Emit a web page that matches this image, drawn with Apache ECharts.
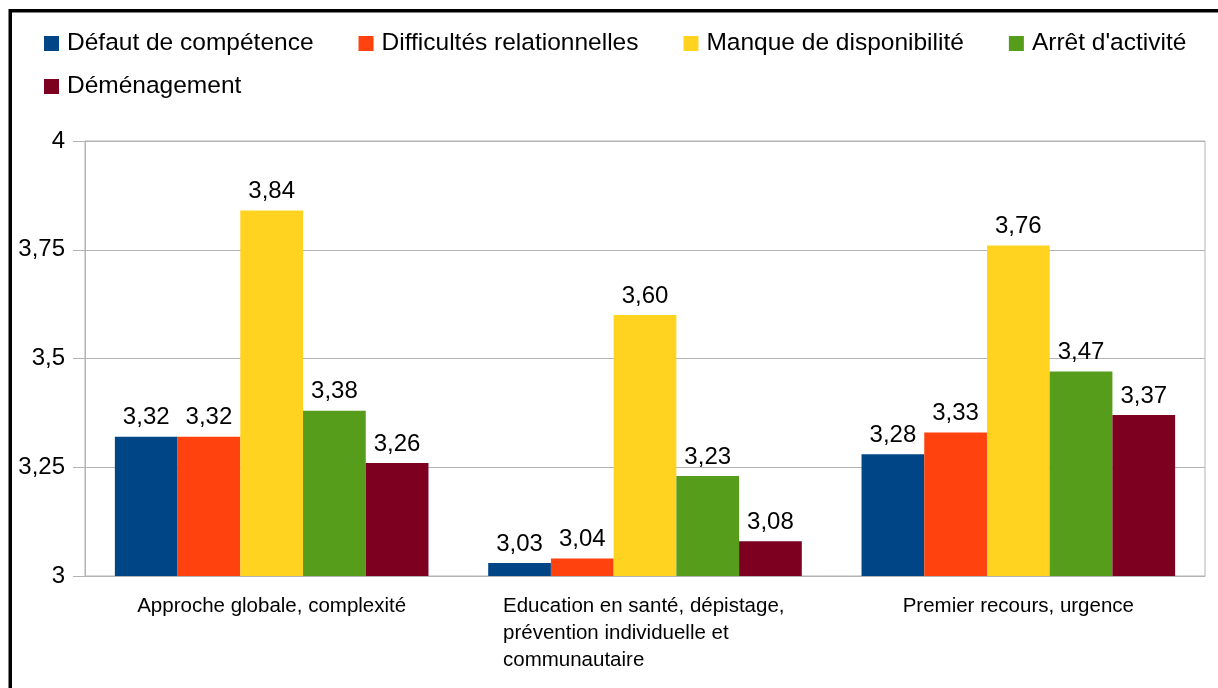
<!DOCTYPE html>
<html>
<head>
<meta charset="utf-8">
<script src="https://cdn.jsdelivr.net/npm/echarts@6/dist/echarts.min.js"></script>
<style>
  html, body { margin: 0; padding: 0; background: #fff; }
  #chart { width: 1218px; height: 688px; }
</style>
</head>
<body>
<div id="chart"></div>
<script>
  var categories = [
    'Approche globale, complexité',
    'Education en santé, dépistage,\nprévention individuelle et\ncommunautaire',
    'Premier recours, urgence'
  ];
  var seriesNames = ['Défaut de compétence', 'Difficultés relationnelles', 'Manque de disponibilité', "Arrêt d'activité", 'Déménagement'];
  var defautCompetence = [3.32, 3.03, 3.28];
  var difficultesRelationnelles = [3.32, 3.04, 3.33];
  var manqueDisponibilite = [3.84, 3.60, 3.76];
  var arretActivite = [3.38, 3.23, 3.47];
  var demenagement = [3.26, 3.08, 3.37];
  var colors = ['#004586', '#ff420e', '#ffd320', '#579d1c', '#7e0021'];

  var font = 'Liberation Sans, Arial, sans-serif';
  var values = [defautCompetence, difficultesRelationnelles, manqueDisponibilite, arretActivite, demenagement];

  var chart = echarts.init(document.getElementById('chart'));

  var series = seriesNames.map(function (name, i) {
    return {
      name: name,
      type: 'bar',
      barGap: 0,
      barCategoryGap: '16%',
      itemStyle: { color: colors[i] },
      label: {
        show: true,
        position: 'top',
        distance: 7,
        color: '#000',
        fontFamily: font,
        fontSize: 24,
        formatter: function (p) { return p.value.toFixed(2).replace('.', ','); }
      },
      data: values[i]
    };
  });

  var legendText = { fontSize: 24.5, color: '#000', fontFamily: font, padding: [0, 0, 0, 3] };

  chart.setOption({
    animation: false,
    color: colors,
    textStyle: { fontFamily: font },
    legend: [{
      data: seriesNames.slice(0, 4),
      left: 39, top: 26,
      icon: 'rect', itemWidth: 15, itemHeight: 15, itemGap: 45,
      textStyle: legendText
    }, {
      data: seriesNames.slice(4),
      left: 39, top: 69,
      icon: 'rect', itemWidth: 15, itemHeight: 15,
      textStyle: legendText
    }],
    grid: {
      left: 85, right: 13, top: 141, bottom: 112,
      show: true, borderColor: '#b3b3b3', borderWidth: 1,
      containLabel: false
    },
    xAxis: {
      type: 'category',
      data: categories,
      axisLine: { lineStyle: { color: '#b3b3b3' } },
      axisTick: { length: 9, lineStyle: { color: '#b3b3b3' } },
      axisLabel: {
        margin: 17,
        color: '#000',
        fontSize: 20.5,
        lineHeight: 27,
        fontFamily: font,
        interval: 0,
        formatter: function (v) {
          var lines = v.split('\n');
          if (lines.length === 1) return v;
          return lines.map(function (l) { return '{l|' + l + '}'; }).join('\n');
        },
        rich: {
          l: { width: 284, align: 'left', fontSize: 20.5, lineHeight: 27, color: '#000', fontFamily: font }
        }
      }
    },
    yAxis: {
      type: 'value',
      min: 3, max: 4, interval: 0.25,
      axisLine: { show: true, lineStyle: { color: '#b3b3b3' } },
      axisTick: { show: true, length: 12, lineStyle: { color: '#b3b3b3' } },
      splitLine: { lineStyle: { color: '#b3b3b3' } },
      axisLabel: {
        margin: 20,
        color: '#000',
        fontSize: 24,
        fontFamily: font,
        formatter: function (v) { return String(v).replace('.', ','); }
      }
    },
    graphic: [{
      type: 'rect',
      shape: { x: 10.25, y: 10.75, width: 1400, height: 900 },
      style: { fill: 'none', stroke: '#000', lineWidth: 3.5 },
      silent: true
    }],
    series: series
  });
</script>
</body>
</html>
